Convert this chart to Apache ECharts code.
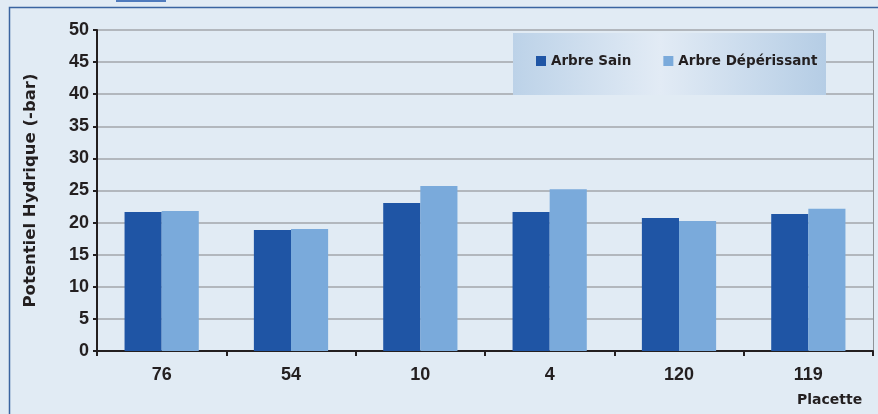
<!DOCTYPE html>
<html>
<head>
<meta charset="utf-8">
<script src="https://cdn.jsdelivr.net/npm/echarts@6/dist/echarts.min.js"></script>
<style>
  html, body { margin: 0; padding: 0; background: #e1ebf4; }
  #chart { width: 878px; height: 414px; }
</style>
</head>
<body>
<div id="chart"></div>
<script>
// Placettes (plots) and water potential values, in -bar
const placettes = ['76', '54', '10', '4', '120', '119'];
const arbreSain = [21.65, 18.85, 23.05, 21.65, 20.7, 21.35];
const arbreDeperissant = [21.8, 19.0, 25.7, 25.2, 20.25, 22.15];
const yTicks = { min: 0, max: 50, interval: 5 };

const chart = echarts.init(document.getElementById('chart'));
const ink = '#231f20';
const tickFont = { fontFamily: '"Liberation Sans", Arial, sans-serif', fontWeight: 'bold', color: ink };
const titleFont = { fontFamily: '"DejaVu Sans", sans-serif', fontWeight: 'bold', color: ink };

chart.setOption({
  backgroundColor: '#e1ebf4',
  animation: false,
  grid: { left: 97, right: 5, top: 30, bottom: 63 },
  graphic: [
    // outer frame (top and left edges)
    { type: 'polyline', shape: { points: [[9.5, 414], [9.5, 7.5], [878, 7.5]] },
      style: { stroke: '#3a64a0', lineWidth: 1.5, fill: null }, silent: true },
    // small tab at the top
    { type: 'rect', shape: { x: 116, y: 0, width: 50, height: 2 }, style: { fill: '#4f7bbd' }, silent: true },
    // right border of the plot area
    { type: 'line', shape: { x1: 873.5, y1: 30, x2: 873.5, y2: 351 },
      style: { stroke: '#8f9398', lineWidth: 1 }, silent: true },
    // legend box
    { type: 'rect', z: 5, shape: { x: 513, y: 33, width: 313, height: 62 },
      style: { fill: new echarts.graphic.LinearGradient(0, 0, 1, 0, [
        { offset: 0, color: '#bcd2e8' }, { offset: 0.47, color: '#e2ebf5' }, { offset: 1, color: '#b5cde5' }]) },
      silent: true },
    // x axis name
    { type: 'text', left: 797, top: 393,
      style: { text: 'Placette', fontSize: 14, fill: ink, fontFamily: titleFont.fontFamily, fontWeight: 'bold' } }
  ],
  legend: {
    z: 10,
    left: 536, top: 54, padding: 0,
    itemWidth: 10, itemHeight: 10, itemGap: 32,
    icon: 'rect',
    textStyle: { fontFamily: '"DejaVu Sans", sans-serif', fontWeight: 'bold', fontSize: 13.5, color: ink },
    data: ['Arbre Sain', 'Arbre Dépérissant']
  },
  xAxis: {
    type: 'category',
    data: placettes,
    axisLine: { lineStyle: { color: ink, width: 2 } },
    axisTick: { show: true, length: 5, lineStyle: { color: ink, width: 2 } },
    axisLabel: Object.assign({ fontSize: 18, margin: 15 }, tickFont)
  },
  yAxis: {
    type: 'value',
    min: yTicks.min, max: yTicks.max, interval: yTicks.interval,
    name: 'Potentiel Hydrique (-bar)',
    nameLocation: 'middle',
    nameGap: 58,
    nameTextStyle: Object.assign({ fontSize: 16.5 }, titleFont),
    axisLine: { show: true, lineStyle: { color: ink, width: 2 } },
    axisTick: { show: true, length: 4, lineStyle: { color: ink, width: 2 } },
    axisLabel: Object.assign({ fontSize: 18, margin: 8 }, tickFont),
    splitLine: { lineStyle: { color: '#a2a6ab', width: 1.5 } }
  },
  series: [
    { name: 'Arbre Sain', type: 'bar', data: arbreSain, barGap: '0%', barCategoryGap: '42.6%',
      itemStyle: { color: '#1f55a5' } },
    { name: 'Arbre Dépérissant', type: 'bar', data: arbreDeperissant, barGap: '0%', barCategoryGap: '42.6%',
      itemStyle: { color: '#7aaadb' } }
  ]
});
</script>
</body>
</html>
